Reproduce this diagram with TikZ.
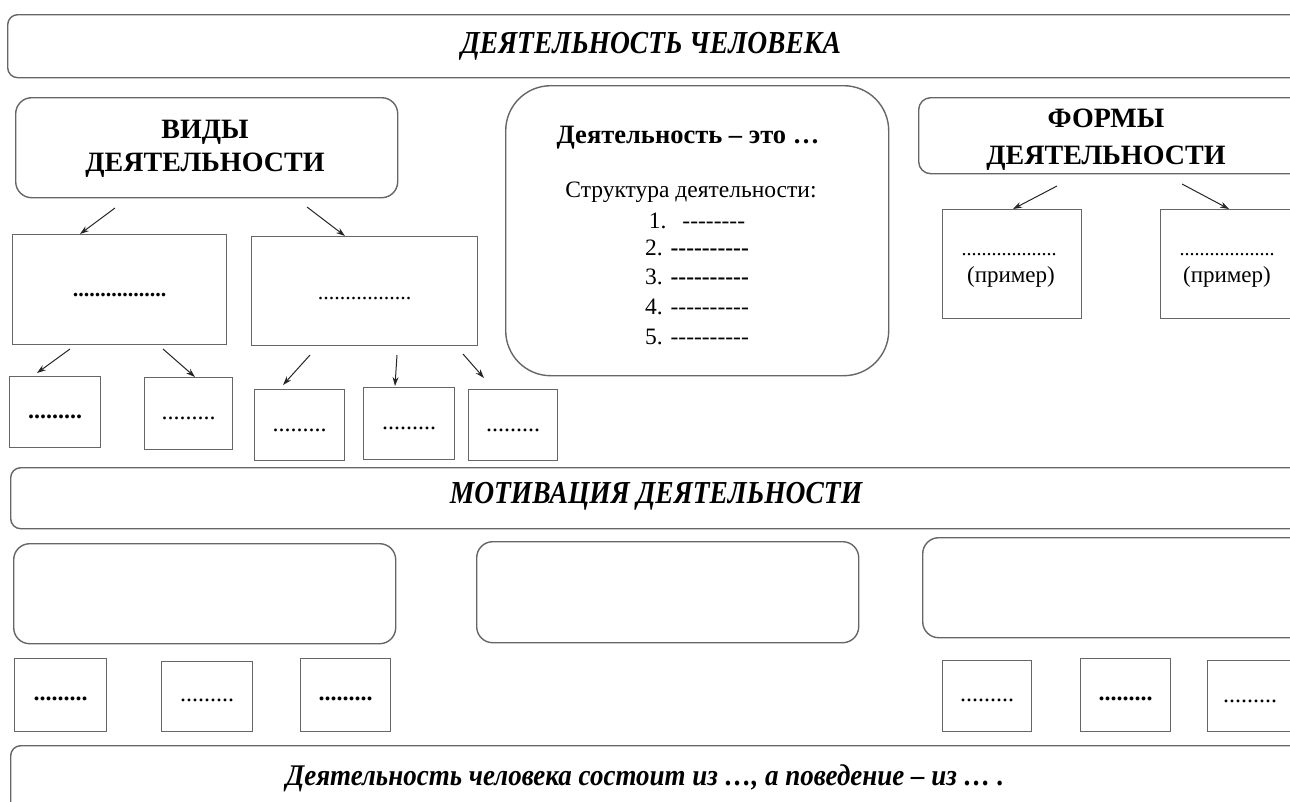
\documentclass[tikz,border=0pt]{standalone}
\usepackage{fontspec}
\setmainfont{Liberation Serif}
\usetikzlibrary{arrows.meta,calc}
\newcommand\lowdots[2]{\smash{\raisebox{-#1}{#2}}}
\begin{document}
\begin{tikzpicture}[x=1pt,y=-1pt,
  ln/.style={draw=black!60, line width=1.4pt},
  banner/.style={ln, rounded corners=10pt, anchor=north west, inner sep=0pt},
  rbox/.style={ln, rounded corners=16pt, anchor=north west, inner sep=0pt},
  bigbox/.style={ln, rounded corners=45pt, anchor=north west, inner sep=0pt},
  sbox/.style={ln, anchor=north west, inner sep=0pt},
  arr/.style={-{Stealth[length=9pt,width=6pt]}, line width=1pt, draw=black!85},
  bfont/.style={font=\fontsize{32}{32}\selectfont\bfseries\itshape},
  hfont/.style={font=\fontsize{28}{33}\selectfont\bfseries, align=center},
  tfont/.style={font=\fontsize{26.5}{26.5}\selectfont\bfseries},
  lfont/.style={font=\fontsize{23.5}{23.5}\selectfont},
  dbold/.style={font=\fontsize{24}{24}\selectfont\bfseries},
  dreg/.style={font=\fontsize{24}{24}\selectfont},
  pfont/.style={font=\fontsize{23}{23}\selectfont},
  txt/.style={inner sep=0pt}
]
\useasboundingbox (0,0) rectangle (1290,801);
\clip (0,0) rectangle (1290,801);

% top banner
\node[banner, minimum width=1303pt, minimum height=63pt] (top) at (7,14) {};
\node[txt, bfont] (topT) at (651,46) {\scalebox{0.86}[1]{ДЕЯТЕЛЬНОСТЬ ЧЕЛОВЕКА}};

% Виды деятельности
\node[rbox, minimum width=382pt, minimum height=100pt] (vid) at (15,97) {};
\node[txt, hfont] (vidT) at (205,149) {ВИДЫ\\ДЕЯТЕЛЬНОСТИ};

% center definition box
\node[bigbox, minimum width=383pt, minimum height=290pt] (def) at (505,85) {};
\node[txt, tfont] (defT) at (688,138) {Деятельность – это …};
\node[txt, lfont] (struct) at (691,192) {Структура деятельности:};
\node[txt, lfont] (i1) at (697,221) {1.\hspace{16pt}-{}-{}-{}-{}-{}-{}-{}-};
\node[txt, lfont] (i2) at (697,248) {2. \textbf{-{}-{}-{}-{}-{}-{}-{}-{}-{}-}};
\node[txt, lfont] (i3) at (697,277) {3. \textbf{-{}-{}-{}-{}-{}-{}-{}-{}-{}-}};
\node[txt, lfont] (i4) at (697,307) {4. -{}-{}-{}-{}-{}-{}-{}-{}-{}-};
\node[txt, lfont] (i5) at (697,337) {5. -{}-{}-{}-{}-{}-{}-{}-{}-{}-};

% Формы деятельности
\node[rbox, rounded corners=12pt, minimum width=392pt, minimum height=76pt] (form) at (918,97) {};
\node[txt, font=\fontsize{28}{37}\selectfont\bfseries, align=center] (formT) at (1106,140) {ФОРМЫ\\ДЕЯТЕЛЬНОСТИ};

% level-2 boxes under Виды
\node[sbox, minimum width=214pt, minimum height=110pt, font=\fontsize{22}{22}\selectfont\bfseries] (L1) at (12,234) {\lowdots{7pt}{.................}};
\node[sbox, minimum width=226pt, minimum height=109pt, font=\fontsize{22}{22}\selectfont] (L2) at (251,236) {\lowdots{8pt}{.................}};

% level-3 small boxes
\node[sbox, minimum width=91pt, minimum height=71pt, dbold] (B1) at (9,376) {\lowdots{6pt}{.........}};
\node[sbox, minimum width=88pt, minimum height=72pt, dreg] (B2) at (144,377) {\lowdots{6pt}{.........}};
\node[sbox, minimum width=90pt, minimum height=71pt, dreg] (B3) at (254,389) {\lowdots{6pt}{.........}};
\node[sbox, minimum width=91pt, minimum height=72pt, dreg] (B4) at (363,387) {\lowdots{6pt}{.........}};
\node[sbox, minimum width=89pt, minimum height=71pt, dreg] (B5) at (468,389) {\lowdots{6pt}{.........}};

% Формы sub boxes
\node[sbox, minimum width=139pt, minimum height=109pt] (F1) at (942,209) {};
\node[txt, font=\fontsize{20}{20}\selectfont] (F1d) at (1009,255) {...................};
\node[txt, pfont] (F1T) at (1011,277) {(пример)};
\node[sbox, minimum width=150pt, minimum height=109pt] (F2) at (1160,209) {};
\node[txt, font=\fontsize{20}{20}\selectfont] (F2d) at (1227,255) {...................};
\node[txt, pfont] (F2T) at (1227,277) {(пример)};

% arrows
\coordinate (a1) at (115,208);
\coordinate (a2) at (307,207);
\coordinate (a3) at (70,349);
\coordinate (a4) at (163,349);
\coordinate (a5) at (310,355);
\coordinate (a6) at (397,355);
\coordinate (a7) at (463,354);
\coordinate (a8) at (1057,186);
\coordinate (a9) at (1182,184);
\draw[arr] (a1) -- ($(L1.north west)+(68,0)$);
\draw[arr] (a2) -- ($(L2.north west)+(94,0)$);
\draw[arr] (a3) -- ($(B1.north west)+(28,-3)$);
\draw[arr] (a4) -- ($(B2.north west)+(51,0)$);
\draw[arr] (a5) -- ($(B3.north west)+(29,-4)$);
\draw[arr] (a6) -- ($(B4.north west)+(32,-1)$);
\draw[arr] (a7) -- ($(B5.north west)+(16,-11)$);
\draw[arr] (a8) -- ($(F1.north west)+(71,0)$);
\draw[arr] (a9) -- ($(F2.north west)+(69,0)$);

% Мотивация banner
\node[banner, minimum width=1300pt, minimum height=61pt] (mot) at (10,467) {};
\node[txt, bfont] (motT) at (656,496) {\scalebox{0.86}[1]{МОТИВАЦИЯ ДЕЯТЕЛЬНОСТИ}};

% three motive boxes
\node[rbox, minimum width=382pt, minimum height=100pt] (M1) at (13,543) {};
\node[rbox, minimum width=382pt, minimum height=101pt] (M2) at (476,541) {};
\node[rbox, minimum width=388pt, minimum height=100pt] (M3) at (922,537) {};

% bottom small boxes
\node[sbox, minimum width=92pt, minimum height=73pt, dbold] (S1) at (14,658) {\lowdots{5pt}{.........}};
\node[sbox, minimum width=91pt, minimum height=70pt, dreg] (S2) at (161,661) {\lowdots{5pt}{.........}};
\node[sbox, minimum width=90pt, minimum height=73pt, dbold] (S3) at (300,658) {\lowdots{5pt}{.........}};
\node[sbox, minimum width=89pt, minimum height=71pt, dreg] (S4) at (942,660) {\lowdots{5pt}{.........}};
\node[sbox, minimum width=90pt, minimum height=73pt, dbold] (S5) at (1080,658) {\lowdots{5pt}{.........}};
\node[sbox, minimum width=103pt, minimum height=71pt] (S6) at (1207,660) {};
\node[txt, dreg] (S6T) at (1250,697) {\lowdots{5pt}{.........}};

% bottom banner
\node[banner, minimum width=1300pt, minimum height=70pt] (bot) at (10,745) {};
\node[txt, font=\fontsize{30}{30}\selectfont\bfseries\itshape] (botT) at (645,778) {\scalebox{0.9}[1]{Деятельность человека состоит из …, а поведение – из … .}};
\end{tikzpicture}
\end{document}
